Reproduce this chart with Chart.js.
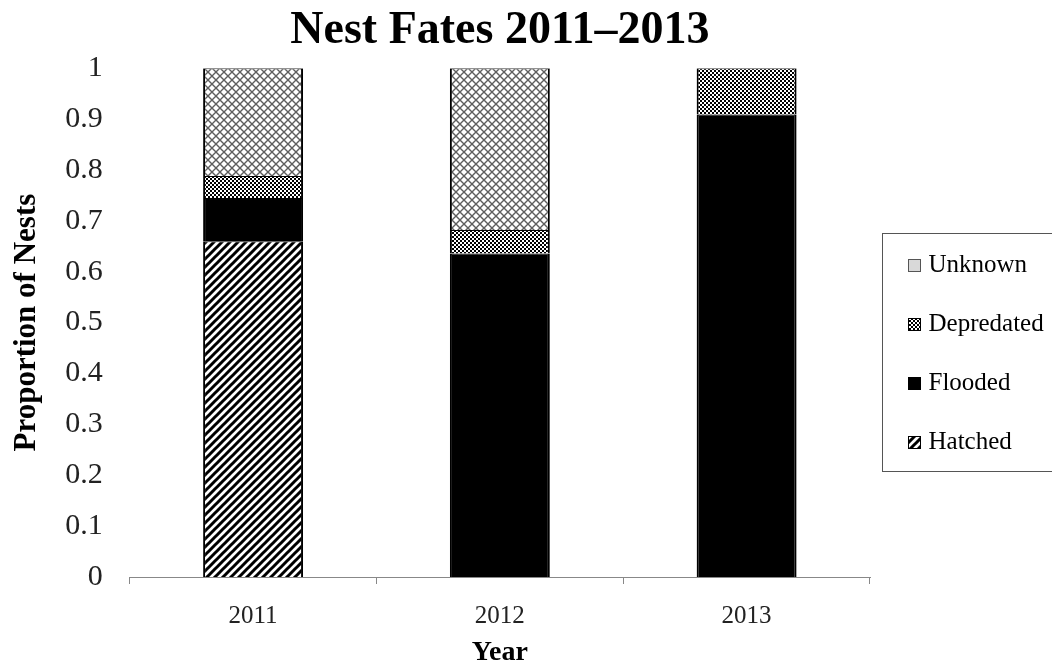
<!DOCTYPE html>
<html>
<head>
<meta charset="utf-8">
<script src="https://cdn.jsdelivr.net/npm/chart.js@4/dist/chart.umd.min.js"></script>
<style>
  html, body { margin: 0; padding: 0; background: #fff; }
  #wrap { width: 1052px; height: 661px; position: relative; }
</style>
</head>
<body>
<div id="wrap"><canvas id="c"></canvas></div>
<script>
// Nest fates by year, as proportions of all nests found
const years = ['2011', '2012', '2013'];
const hatched = [0.660, 0, 0];
const flooded = [0.085, 0.636, 0.909];
const depredated = [0.043, 0.046, 0.091];
const unknown = [0.212, 0.318, 0];
const yTickLabels = ['0', '0.1', '0.2', '0.3', '0.4', '0.5', '0.6', '0.7', '0.8', '0.9', '1'];

const SERIF = '"Liberation Serif", "Times New Roman", serif';
const ctx = document.getElementById('c').getContext('2d');

function tile(size, paint) {
  const c = document.createElement('canvas');
  c.width = c.height = size;
  const g = c.getContext('2d');
  g.fillStyle = '#fff';
  g.fillRect(0, 0, size, size);
  paint(g, size);
  return ctx.createPattern(c, 'repeat');
}

// "////" stripes
const stripePattern = tile(8, (g, s) => {
  g.strokeStyle = '#000';
  g.lineWidth = 3;
  g.beginPath();
  g.moveTo(-2, s + 2); g.lineTo(s + 2, -2);
  g.moveTo(-2, 2); g.lineTo(2, -2);
  g.moveTo(s - 2, s + 2); g.lineTo(s + 2, s - 2);
  g.stroke();
});

// fine checkerboard
const checkPattern = tile(4, (g) => {
  g.fillStyle = '#000';
  g.fillRect(0, 0, 2, 2);
  g.fillRect(2, 2, 2, 2);
});

// open diagonal cross-hatch
const crossPattern = tile(8, (g, s) => {
  g.strokeStyle = '#5e5e5e';
  g.lineWidth = 1.4;
  g.beginPath();
  g.moveTo(0, 0); g.lineTo(s, s);
  g.moveTo(0, s); g.lineTo(s, 0);
  g.stroke();
});

// Legend swatch: a small filled square sitting at the right of its canvas
function swatch(fill, stroke) {
  const c = document.createElement('canvas');
  c.width = 22; c.height = 13;
  const g = c.getContext('2d');
  g.fillStyle = fill;
  g.fillRect(9, 0, 13, 13);
  g.strokeStyle = stroke;
  g.lineWidth = 1;
  g.strokeRect(9.5, 0.5, 12, 12);
  return c;
}
const legendSwatches = {
  Unknown: swatch('#d9d9d9', '#555'),
  Depredated: swatch(checkPattern, '#000'),
  Flooded: swatch('#000', '#000'),
  Hatched: swatch(stripePattern, '#000')
};

const barBorder = { left: 2, right: 2, top: 1, bottom: 0 };

function series(label, data, fill) {
  return {
    label, data,
    backgroundColor: fill,
    borderColor: '#000',
    borderWidth: barBorder,
    borderSkipped: false,
    categoryPercentage: 1,
    barPercentage: 0.405
  };
}

// Box drawn around the legend entries
const legendFrame = {
  id: 'legendFrame',
  afterDraw(chart) {
    const lg = chart.legend;
    if (!lg || !lg.legendHitBoxes || !lg.legendHitBoxes.length) return;
    const hb = lg.legendHitBoxes;
    const first = hb[0], last = hb[hb.length - 1];
    const g = chart.ctx;
    const x0 = first.left - 22;
    const y0 = first.top - 20.5;
    const y1 = last.top + last.height + 15.5;
    g.save();
    g.strokeStyle = '#555';
    g.lineWidth = 1;
    g.strokeRect(Math.round(x0) + 0.5, Math.round(y0) + 0.5, chart.width + 10, Math.round(y1 - y0));
    g.restore();
  }
};

new Chart(ctx, {
  type: 'bar',
  data: {
    labels: years,
    datasets: [
      series('Hatched', hatched, stripePattern),
      series('Flooded', flooded, '#000'),
      series('Depredated', depredated, checkPattern),
      series('Unknown', unknown, crossPattern)
    ]
  },
  options: {
    responsive: true,
    maintainAspectRatio: false,
    animation: false,
    layout: { padding: { left: 8, right: 0, top: 0, bottom: -6 } },
    plugins: {
      tooltip: { enabled: false },
      title: {
        display: true,
        text: 'Nest Fates 2011–2013',
        fullSize: false,
        color: '#000',
        font: { family: SERIF, size: 46, weight: 'bold', lineHeight: 1.2 },
        padding: { top: 4, bottom: 9 }
      },
      legend: {
        display: true,
        position: 'right',
        align: 'center',
        reverse: true,
        maxWidth: 182,
        title: { display: true, text: '', padding: { top: 0, bottom: 17 }, font: { size: 20 } },
        labels: {
          color: '#000',
          font: { family: SERIF, size: 25 },
          usePointStyle: true,
          pointStyleWidth: 12,
          boxHeight: 13,
          padding: 34,
          generateLabels(chart) {
            const items = Chart.defaults.plugins.legend.labels.generateLabels(chart);
            items.forEach(it => {
              it.pointStyle = legendSwatches[it.text];
              it.lineWidth = 0;
            });
            return items;
          }
        }
      }
    },
    scales: {
      x: {
        stacked: true,
        offset: true,
        grid: { display: true, offset: true, drawOnChartArea: false, drawTicks: true, tickLength: 7, color: '#888' },
        border: { display: true, color: '#888', width: 1 },
        ticks: { color: '#222', font: { family: SERIF, size: 25, lineHeight: 1 }, padding: 20, maxRotation: 0 },
        title: {
          display: true, text: 'Year', color: '#000',
          font: { family: SERIF, size: 28, weight: 'bold', lineHeight: 1 },
          padding: { top: -10, bottom: 0 }
        }
      },
      y: {
        stacked: true,
        min: 0, max: 1,
        grid: { display: false, drawTicks: false },
        border: { display: false },
        ticks: {
          stepSize: 0.1,
          color: '#222',
          font: { family: SERIF, size: 30 },
          padding: 27,
          callback: (v, i) => yTickLabels[i]
        },
        title: {
          display: true, text: 'Proportion of Nests', color: '#000',
          font: { family: SERIF, size: 31, weight: 'bold' },
          padding: { top: 0, bottom: -7 }
        }
      }
    }
  },
  plugins: [legendFrame]
});
</script>
</body>
</html>
